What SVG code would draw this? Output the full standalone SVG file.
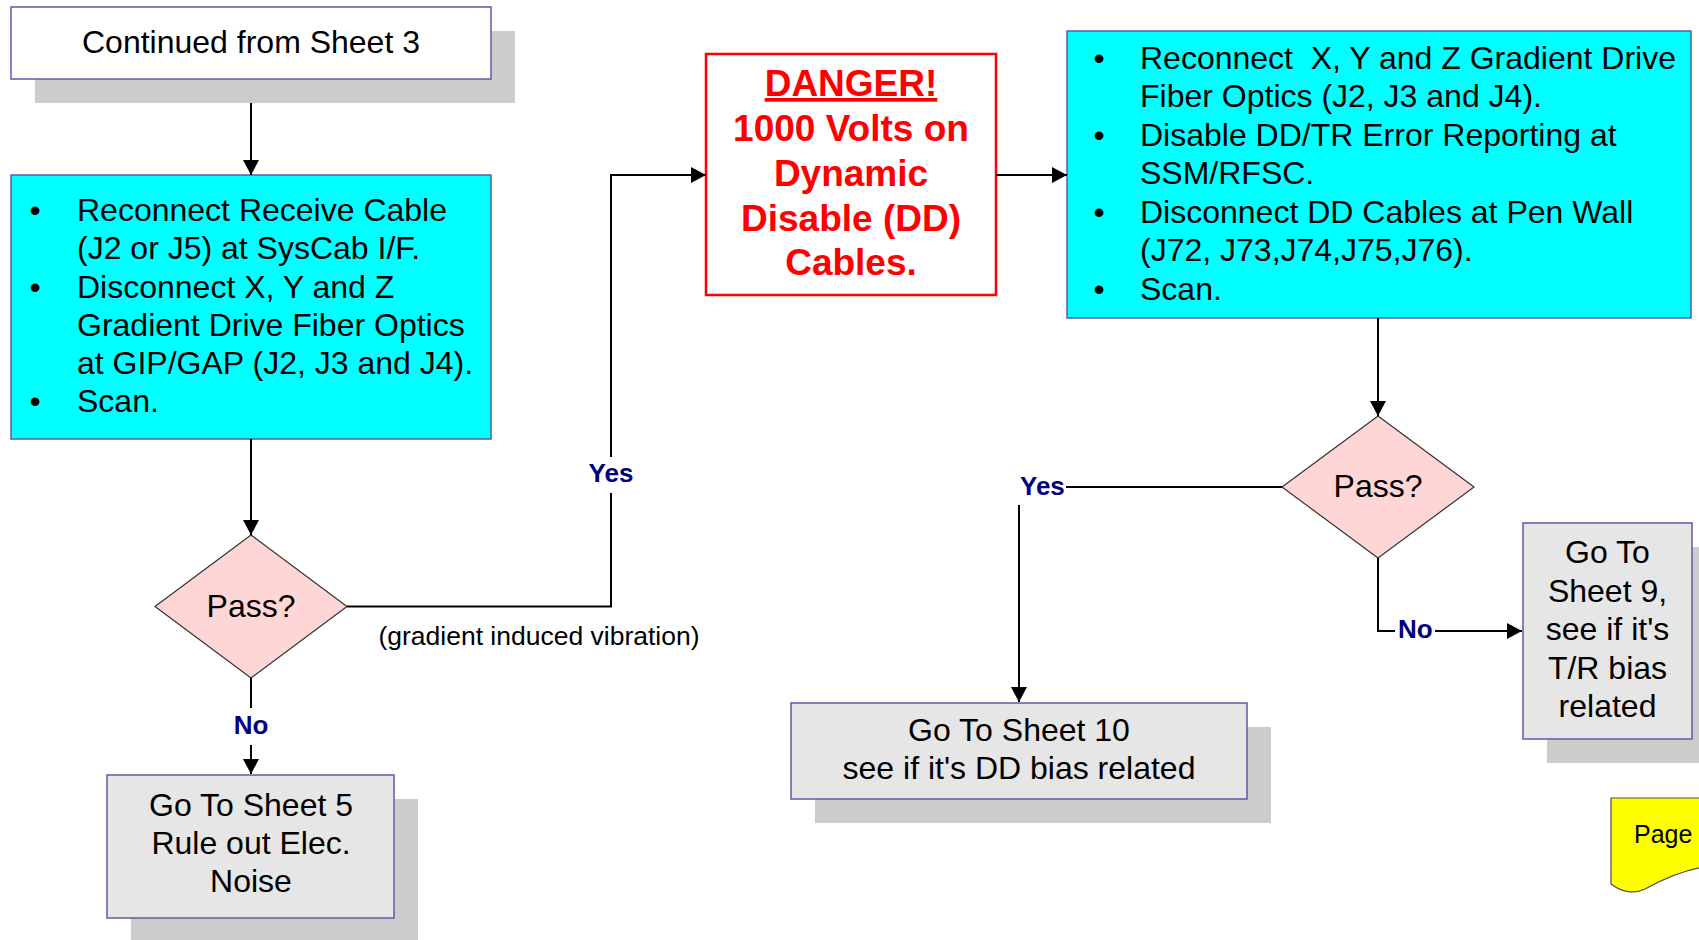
<svg xmlns="http://www.w3.org/2000/svg" width="1699" height="940" viewBox="0 0 1699 940">
  <defs>
    <marker id="arrow" markerUnits="userSpaceOnUse" markerWidth="16" markerHeight="16" refX="15" refY="8" orient="auto">
      <path d="M0,0 L15,8 L0,16 Z" fill="#000"/>
    </marker>
    <style>
      text { font-family: "Liberation Sans", Arial, sans-serif; fill: #000; }
      .body { font-size: 32px; }
      .mid { text-anchor: middle; }
      .lbl { font-size: 26px; font-weight: bold; fill: #000080; }
      .note { font-size: 26.5px; }
      .shadow { fill: #cccccc; stroke: none; }
      .box { fill: #e6e6e6; stroke: #5b5ba8; stroke-width: 1.5; }
      .start { fill: #ffffff; stroke: #5b5ba8; stroke-width: 1.5; }
      .step { fill: #00ffff; stroke: #5b5ba8; stroke-width: 1.5; }
      .decision { fill: #ffd6d6; stroke: #333333; stroke-width: 1.2; }
      .danger { fill: #ffffff; stroke: #ff0000; stroke-width: 2.5; }
      .dtext { font-size: 37px; font-weight: bold; fill: #ff0000; text-anchor: middle; }
      .conn { fill: none; stroke: #000; stroke-width: 2; }
    </style>
  </defs>
  <rect width="1699" height="940" fill="#ffffff"/>

  <!-- start terminal -->
  <g id="continued">
    <rect class="shadow" x="35" y="31" width="480" height="72"/>
    <rect class="start" x="11" y="7" width="480" height="72"/>
    <text class="body mid" x="251" y="52.5">Continued from Sheet 3</text>
  </g>

  <!-- first procedure step -->
  <g id="step-receive">
    <rect class="step" x="11" y="175" width="480" height="264"/>
    <text class="body mid" x="35" y="221">•</text>
    <text class="body" x="77" y="221">Reconnect Receive Cable</text>
    <text class="body" x="77" y="259">(J2 or J5) at SysCab I/F.</text>
    <text class="body mid" x="35" y="297.5">•</text>
    <text class="body" x="77" y="297.5">Disconnect X, Y and Z</text>
    <text class="body" x="77" y="336">Gradient Drive Fiber Optics</text>
    <text class="body" x="77" y="374">at GIP/GAP (J2, J3 and J4).</text>
    <text class="body mid" x="35" y="412">•</text>
    <text class="body" x="77" y="412">Scan.</text>
  </g>

  <!-- first decision -->
  <g id="pass-1">
    <polygon class="decision" points="251,535 347,606.5 251,678 155,606.5"/>
    <text class="body mid" x="251" y="617">Pass?</text>
  </g>

  <!-- exit to sheet 5 -->
  <g id="sheet-5">
    <rect class="shadow" x="131" y="799" width="287" height="143"/>
    <rect class="box" x="107" y="775" width="287" height="143"/>
    <text class="body mid" x="251" y="816">Go To Sheet 5</text>
    <text class="body mid" x="251" y="854">Rule out Elec.</text>
    <text class="body mid" x="251" y="892">Noise</text>
  </g>

  <!-- warning box -->
  <g id="danger">
    <rect class="danger" x="706" y="54" width="290" height="241"/>
    <text class="dtext" x="851" y="96" text-decoration="underline">DANGER!</text>
    <text class="dtext" x="851" y="141">1000 Volts on</text>
    <text class="dtext" x="851" y="186">Dynamic</text>
    <text class="dtext" x="851" y="231">Disable (DD)</text>
    <text class="dtext" x="851" y="275">Cables.</text>
  </g>

  <!-- second procedure step -->
  <g id="step-dd">
    <rect class="step" x="1067" y="31" width="624" height="287"/>
    <text class="body mid" x="1099" y="68.5">•</text>
    <text class="body" x="1140" y="68.5" xml:space="preserve">Reconnect  X, Y and Z Gradient Drive</text>
    <text class="body" x="1140" y="107">Fiber Optics (J2, J3 and J4).</text>
    <text class="body mid" x="1099" y="146">•</text>
    <text class="body" x="1140" y="146">Disable DD/TR Error Reporting at</text>
    <text class="body" x="1140" y="184">SSM/RFSC.</text>
    <text class="body mid" x="1099" y="223">•</text>
    <text class="body" x="1140" y="223">Disconnect DD Cables at Pen Wall</text>
    <text class="body" x="1140" y="261">(J72, J73,J74,J75,J76).</text>
    <text class="body mid" x="1099" y="300">•</text>
    <text class="body" x="1140" y="300">Scan.</text>
  </g>

  <!-- second decision -->
  <g id="pass-2">
    <polygon class="decision" points="1378,416 1474,487 1378,558 1282,487"/>
    <text class="body mid" x="1378" y="497">Pass?</text>
  </g>

  <!-- exit to sheet 10 -->
  <g id="sheet-10">
    <rect class="shadow" x="815" y="727" width="456" height="96"/>
    <rect class="box" x="791" y="703" width="456" height="96"/>
    <text class="body mid" x="1019" y="741">Go To Sheet 10</text>
    <text class="body mid" x="1019" y="779">see if it's DD bias related</text>
  </g>

  <!-- exit to sheet 9 -->
  <g id="sheet-9">
    <rect class="shadow" x="1547" y="547" width="169" height="216"/>
    <rect class="box" x="1523" y="523" width="169" height="216"/>
    <text class="body mid" x="1607.5" y="563">Go To</text>
    <text class="body mid" x="1607.5" y="601.5">Sheet 9,</text>
    <text class="body mid" x="1607.5" y="640">see if it's</text>
    <text class="body mid" x="1607.5" y="678.5">T/R bias</text>
    <text class="body mid" x="1607.5" y="717">related</text>
  </g>

  <!-- off-page reference -->
  <g id="page-ref">
    <path d="M1611,798 H1712 V866 C1690,868 1665,878 1645,889 C1633,895 1620,891 1611,884 Z" fill="#ffff00" stroke="#4d4d4d" stroke-width="1.2"/>
    <text x="1634" y="843" style="font-size:25px">Page</text>
  </g>

  <!-- connectors -->
  <g id="connectors">
    <path class="conn" d="M251,103 V175" marker-end="url(#arrow)"/>
    <path class="conn" d="M251,439 V535" marker-end="url(#arrow)"/>
    <path class="conn" d="M347,606.5 H611 V493 M611,457 V175 H706" marker-end="url(#arrow)"/>
    <path class="conn" d="M251,678 V708 M251,745 V774" marker-end="url(#arrow)"/>
    <path class="conn" d="M996,175 H1067" marker-end="url(#arrow)"/>
    <path class="conn" d="M1378,318 V416" marker-end="url(#arrow)"/>
    <path class="conn" d="M1282,487 H1066 M1019,505 V702" marker-end="url(#arrow)"/>
    <path class="conn" d="M1378,558 V631 H1395 M1435,631 H1522" marker-end="url(#arrow)"/>
    <text class="lbl mid" x="611" y="482">Yes</text>
    <text class="note mid" x="539" y="645">(gradient induced vibration)</text>
    <text class="lbl mid" x="251" y="734">No</text>
    <text class="lbl" x="1020" y="494.5">Yes</text>
    <text class="lbl" x="1398" y="637.5">No</text>
  </g>
</svg>
